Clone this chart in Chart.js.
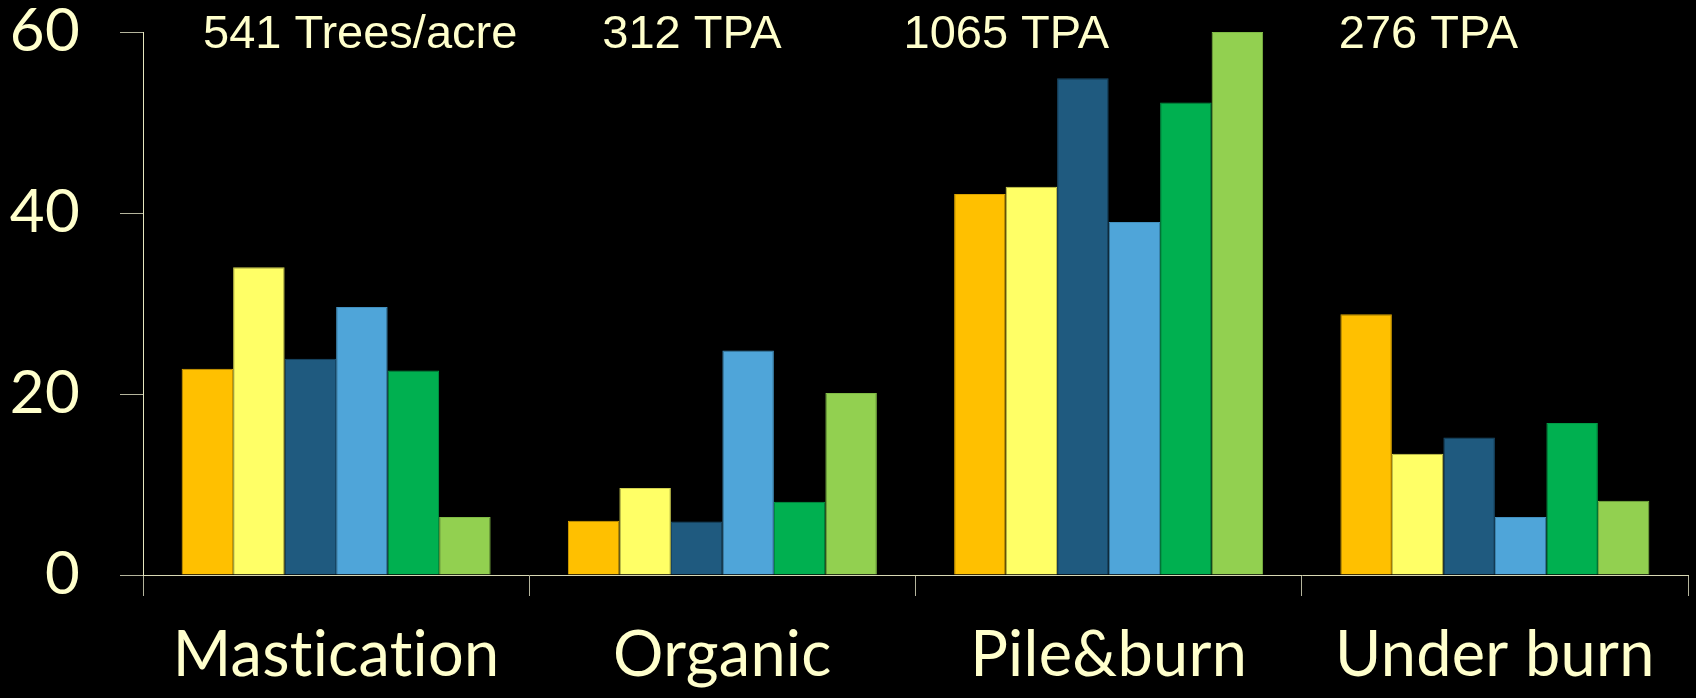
<!DOCTYPE html>
<html>
<head>
<meta charset="utf-8">
<title>Treatment comparison</title>
<script src="https://cdn.jsdelivr.net/npm/chart.js@4/dist/chart.umd.min.js"></script>
<style>
  html, body { margin: 0; padding: 0; background: #000; }
  #wrap { width: 1696px; height: 698px; background: #000; }
</style>
</head>
<body>
<div id="wrap"><canvas id="chart" width="1696" height="698"></canvas></div>
<script>
// Treatment categories along the x axis
const categories = ['Mastication', 'Organic', 'Pile&burn', 'Under burn'];

// Stand density noted above each treatment
const densityNotes = ['541 Trees/acre', '312 TPA', '1065 TPA', '276 TPA'];

// Y axis ticks
const yTicks = [0, 20, 40, 60];

// Series values, one entry per treatment
const series1 = [22.8, 6.0, 42.1, 28.8];
const series2 = [34.0, 9.6, 42.9, 13.4];
const series3 = [23.9, 5.9, 54.9, 15.2];
const series4 = [29.6, 24.8, 39.0, 6.4];
const series5 = [22.6, 8.1, 52.2, 16.8];
const series6 = [6.4, 20.1, 60.0, 8.2];

const seriesValues = [series1, series2, series3, series4, series5, series6];
const fills   = ['#FFC000', '#FFFF66', '#1F5A7F', '#4FA5D9', '#00B050', '#92D050'];
const strokes = ['#D9A300', '#D0D050', '#1A4D6D', '#4290BF', '#009A45', '#7FBA45'];

const cream = '#FFFFCC';

// Keeps letter pairs like "ti" as separate glyphs in the axis labels
const noLigatures = {
  id: 'noLigatures',
  beforeDraw(chart) {
    const ctx = chart.ctx;
    if ('textRendering' in ctx) ctx.textRendering = 'optimizeSpeed';
    if ('letterSpacing' in ctx) ctx.letterSpacing = '0.3px';
  }
};

// Draws the density notes along the top of the plot
const notesPlugin = {
  id: 'densityNotes',
  afterDraw(chart, args, opts) {
    const x = chart.scales.x;
    const ctx = chart.ctx;
    const catW = x.width / categories.length;
    ctx.save();
    ctx.fillStyle = cream;
    ctx.font = opts.font;
    ctx.textAlign = 'left';
    ctx.textBaseline = 'alphabetic';
    if ('letterSpacing' in ctx) ctx.letterSpacing = '0px';
    densityNotes.forEach((t, i) => {
      const left = x.getPixelForValue(i) - catW / 2;
      ctx.fillText(t, left + opts.offsets[i], opts.baseline);
    });
    ctx.restore();
  }
};

new Chart(document.getElementById('chart'), {
  type: 'bar',
  data: {
    labels: categories,
    datasets: seriesValues.map((vals, i) => ({
      label: 'Series ' + (i + 1),
      data: vals,
      backgroundColor: fills[i],
      borderColor: strokes[i],
      borderWidth: 1,
      categoryPercentage: 0.8,
      barPercentage: 1.0
    }))
  },
  options: {
    responsive: false,
    animation: false,
    layout: { padding: { top: 32, right: 8, left: 0, bottom: 0 } },
    plugins: {
      legend: { display: false },
      tooltip: { enabled: false },
      densityNotes: {
        font: '47px "Liberation Sans", Arial, sans-serif',
        baseline: 48,
        offsets: [60, 73, -12, 37]
      }
    },
    scales: {
      x: {
        grid: {
          offset: true,
          drawOnChartArea: false,
          drawTicks: true,
          tickLength: 21,
          color: '#B4B49C',
          lineWidth: 1
        },
        border: { display: true, color: '#D8D8B4', width: 1 },
        ticks: {
          color: cream,
          padding: 22,
          font: { family: 'Lato', size: 63, lineHeight: 1.2 }
        },
        afterFit(scale) {
          scale.height = 123;
          scale.paddingLeft = 0;
          scale.paddingRight = 0;
        }
      },
      y: {
        min: 0,
        max: 60,
        afterBuildTicks(scale) { scale.ticks = yTicks.map(v => ({ value: v })); },
        grid: {
          drawOnChartArea: false,
          drawTicks: true,
          tickLength: 23,
          color: '#B4B49C',
          lineWidth: 1
        },
        border: { display: true, color: '#E6E6BE', width: 1 },
        ticks: {
          color: cream,
          padding: 40,
          font: { family: 'Lato', size: 60, lineHeight: 1 }
        },
        afterFit(scale) {
          scale.width = 143;
          scale.paddingTop = 0;
          scale.paddingBottom = 0;
        }
      }
    }
  },
  plugins: [noLigatures, notesPlugin]
});
</script>
</body>
</html>
